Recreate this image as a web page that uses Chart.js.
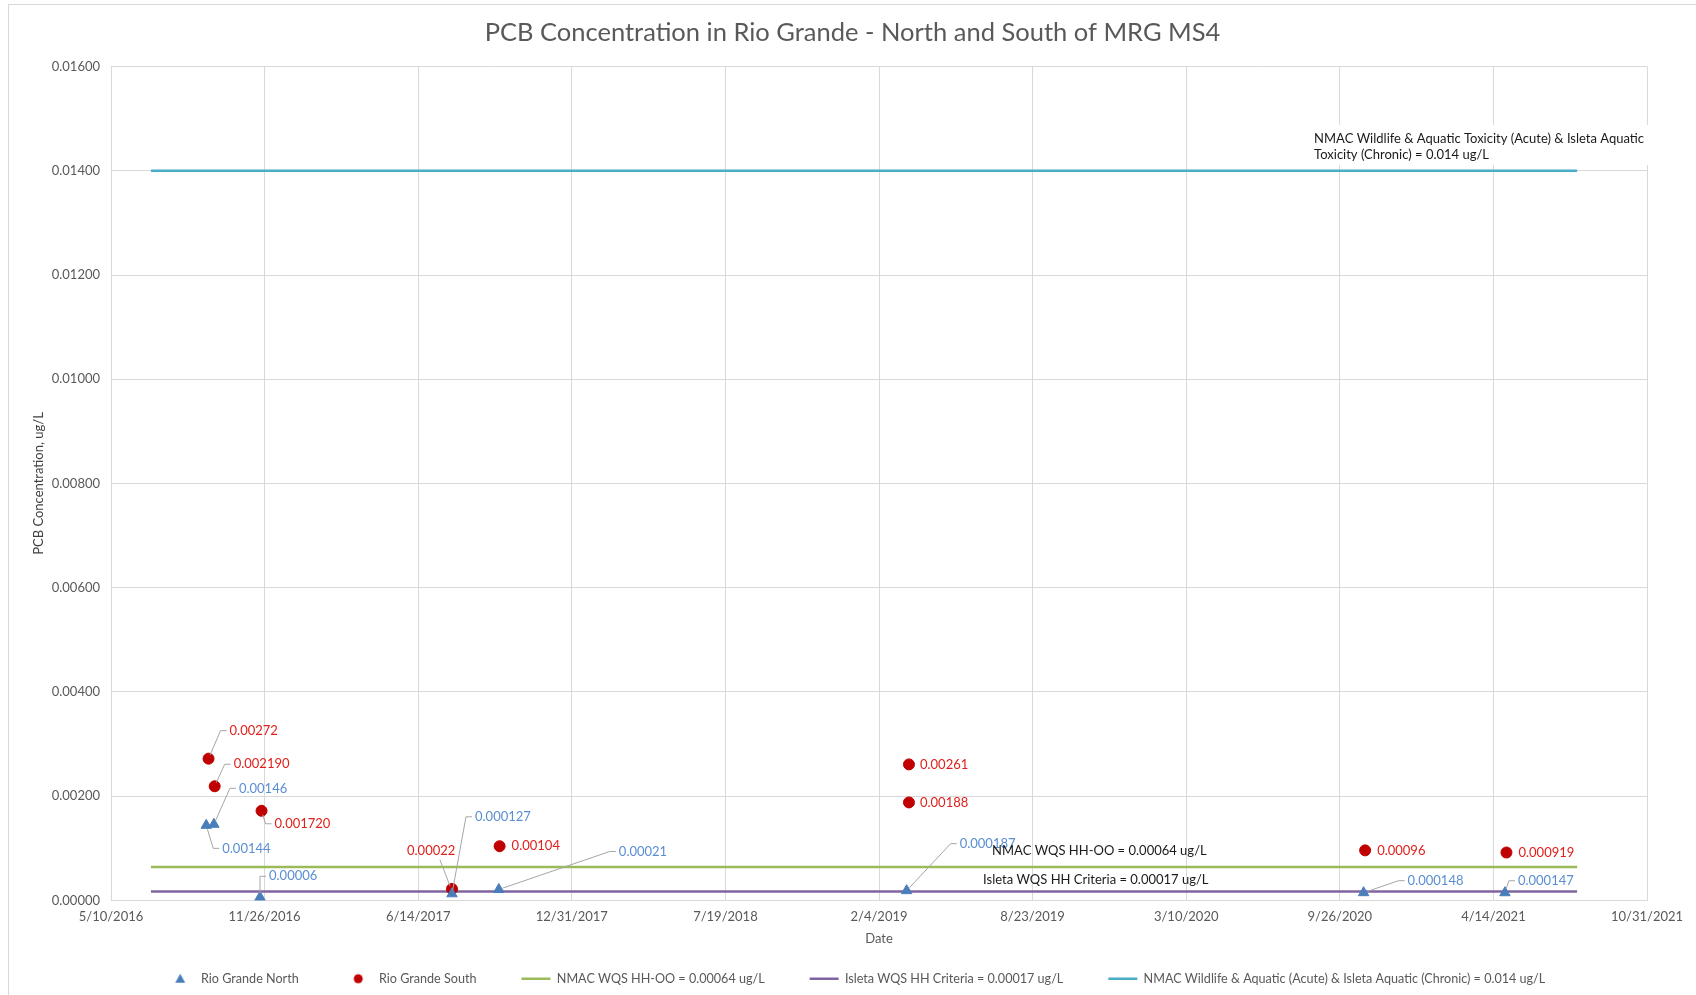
<!DOCTYPE html>
<html>
<head>
<meta charset="utf-8">
<script src="https://cdn.jsdelivr.net/npm/chart.js@4.4.0/dist/chart.umd.min.js"></script>
<style>
  html, body { margin: 0; padding: 0; background: #fff; overflow: hidden; }
  #wrap { position: relative; width: 1696px; height: 995px; }
</style>
</head>
<body>
<div id="wrap"><canvas id="pcbChart"></canvas></div>
<script>
// sample dates (M/D/YYYY) and results, ug/L
const northDates = ['9/11/2016', '9/21/2016', '11/20/2016', '7/28/2017', '9/27/2017', '3/12/2019', '10/27/2020', '4/29/2021'];
const northValues = [0.00144, 0.00146, 0.00006, 0.000127, 0.00021, 0.000187, 0.000148, 0.000147];
const northLabels = ['0.00144', '0.00146', '0.00006', '0.000127', '0.00021', '0.000187', '0.000148', '0.000147'];

const southDates = ['9/14/2016', '9/22/2016', '11/22/2016', '7/28/2017', '9/28/2017', '3/15/2019', '3/15/2019', '10/29/2020', '5/1/2021'];
const southValues = [0.00272, 0.00219, 0.00172, 0.00022, 0.00104, 0.00261, 0.00188, 0.00096, 0.000919];
const southLabels = ['0.00272', '0.002190', '0.001720', '0.00022', '0.00104', '0.00261', '0.00188', '0.00096', '0.000919'];

// criteria lines
const criteriaNames = [
    'NMAC WQS HH-OO = 0.00064 ug/L',
    'Isleta WQS HH Criteria = 0.00017 ug/L',
    'NMAC Wildlife & Aquatic (Acute) & Isleta Aquatic (Chronic) = 0.014 ug/L'
];
const criteriaValues = [0.00064, 0.00017, 0.014];
const criteriaSpan = ['7/1/2016', '8/1/2021'];
const criteriaNotes = [
    ['NMAC WQS HH-OO = 0.00064 ug/L'],
    ['Isleta WQS HH Criteria = 0.00017 ug/L'],
    ['NMAC Wildlife & Aquatic Toxicity (Acute) & Isleta Aquatic', 'Toxicity (Chronic) = 0.014 ug/L']
];

const axisStart = '5/10/2016';
const axisEnd = '10/31/2021';
const dayStep = 200;
const yTicks = [0, 0.016, 0.002];

// label placement (px offsets from the point), style only
const northOffsets = [[16, 23], [25, -36], [9, -21], [23, -77], [120, -38], [53, -47], [44, -12], [13, -12]];
const southOffsets = [[21, -28], [19, -22], [13, 13], [-45, -38], [12, 0], [11, 0], [11, 0], [12, 0], [12, 0]];
const noteOffsets = [[-585, -16], [-594, -12], [-263, -32]];

const toDay = s => {
    const [m, d, y] = s.split('/').map(Number);
    return Date.UTC(y, m - 1, d) / 86400000;
};
const fmtDay = v => {
    const d = new Date(Math.round(v) * 86400000);
    return (d.getUTCMonth() + 1) + '/' + d.getUTCDate() + '/' + d.getUTCFullYear();
};

const FONT = 'Lato, "Open Sans", sans-serif';
const lineColors = ['#9bbb59', '#8064a2', '#4bacc6'];

const pts = (dates, vals) => dates.map((d, i) => ({x: toDay(d), y: vals[i]}));

// small legend markers (so the line samples can be wider than the points)
function marker(kind, color) {
    const cv = document.createElement('canvas');
    cv.width = 12; cv.height = 12;
    const c = cv.getContext('2d');
    c.fillStyle = color;
    c.beginPath();
    if (kind === 'triangle') {
        c.moveTo(6, 1); c.lineTo(11, 10); c.lineTo(1, 10);
    } else {
        c.arc(6, 6, 4.5, 0, Math.PI * 2);
    }
    c.closePath();
    c.fill();
    return cv;
}

const datasets = [
    {
        label: 'Rio Grande North', data: pts(northDates, northValues),
        pointStyle: 'triangle', pointRadius: 6, pointHoverRadius: 6,
        backgroundColor: '#4a7ebb', borderColor: '#4a7ebb', borderWidth: 1,
        _labels: northLabels, _offsets: northOffsets, _labelColor: '#5a8ed2',
        _legendMark: marker('triangle', '#4a7ebb')
    },
    {
        label: 'Rio Grande South', data: pts(southDates, southValues),
        pointStyle: 'circle', pointRadius: 5.5, pointHoverRadius: 5.5,
        backgroundColor: '#c00000', borderColor: '#c00000', borderWidth: 1,
        _labels: southLabels, _offsets: southOffsets, _labelColor: '#e0201b',
        _legendMark: marker('circle', '#c00000')
    }
];
criteriaValues.forEach((v, i) => {
    datasets.push({
        label: criteriaNames[i],
        data: criteriaSpan.map(d => ({x: toDay(d), y: v})),
        showLine: true, pointRadius: 0, pointHoverRadius: 0, pointStyle: 'line',
        borderColor: lineColors[i], backgroundColor: lineColors[i], borderWidth: 2.5,
        _note: criteriaNotes[i], _noteOffset: noteOffsets[i]
    });
});

/* frame + legend squeeze + small shifts of title/legend */
const LEGEND_CUT = 23;
const TITLE_SHIFT = 19;
const LEGEND_SHIFT = 22;
const frame = {
    id: 'frame',
    beforeInit(chart) {
        const lg = chart.legend;
        const fit = lg.fit;
        lg.fit = function () { fit.call(this); this.height -= LEGEND_CUT; };
    },
    afterLayout(chart) {
        chart.legend.top -= LEGEND_CUT;
        chart.legend.left += LEGEND_SHIFT;
        chart.legend.right += LEGEND_SHIFT;
        chart.titleBlock.left += TITLE_SHIFT;
        chart.titleBlock.right += TITLE_SHIFT;
    },
    beforeDraw(chart) {
        const c = chart.ctx;
        c.save();
        c.fillStyle = '#fff';
        c.fillRect(0, 0, chart.width, chart.height);
        c.strokeStyle = '#d9d9d9';
        c.lineWidth = 1;
        c.strokeRect(8.5, 4.5, 2000, 2000);
        c.restore();
    }
};

/* data labels with leader lines */
const labels = {
    id: 'labels',
    afterDatasetsDraw(chart) {
        const c = chart.ctx;
        c.save();
        c.textBaseline = 'middle';
        chart.data.datasets.forEach((ds, di) => {
            const meta = chart.getDatasetMeta(di);
            c.font = '13px ' + FONT;
            if (ds._labels) {
                meta.data.forEach((el, i) => {
                    const [dx, dy] = ds._offsets[i];
                    const lx = el.x + dx, ly = el.y + dy;
                    const txt = ds._labels[i];
                    const w = c.measureText(txt).width;
                    if (Math.abs(dy) > 5) {
                        c.strokeStyle = '#a6a6a6';
                        c.lineWidth = 1;
                        c.beginPath();
                        if (lx > el.x) {
                            const ang = Math.atan2(ly - el.y, lx - 9 - el.x);
                            c.moveTo(el.x + Math.cos(ang) * 4, el.y + Math.sin(ang) * 4);
                            c.lineTo(lx - 9, ly);
                            c.lineTo(lx - 3, ly);
                        } else {
                            const ex = Math.min(el.x - 12, lx + w - 10), ey = ly + 9;
                            c.moveTo(el.x - 2, el.y - 3);
                            c.lineTo(ex, ey);
                        }
                        c.stroke();
                    }
                    c.fillStyle = ds._labelColor;
                    c.fillText(txt, lx, ly);
                });
            }
            if (ds._note) {
                const end = meta.data[meta.data.length - 1];
                const [dx, dy] = ds._noteOffset;
                c.font = '13px ' + FONT;
                const lines = ds._note;
                const lh = 16;
                if (lines.length > 1) {
                    const w = Math.max(...lines.map(t => c.measureText(t).width));
                    c.fillStyle = '#fff';
                    c.fillRect(end.x + dx - 10, end.y + dy - 14, w + 20, lh * lines.length + 8);
                }
                c.fillStyle = '#1a1a1a';
                lines.forEach((t, k) => c.fillText(t, end.x + dx, end.y + dy + k * lh));
            }
        });
        c.restore();
    }
};

new Chart(document.getElementById('pcbChart'), {
    type: 'scatter',
    data: {datasets},
    options: {
        responsive: true,
        maintainAspectRatio: false,
        animation: false,
        layout: {padding: {left: 20, right: 49, top: 8, bottom: 0}},
        plugins: {
            title: {
                display: true,
                text: 'PCB Concentration in Rio Grande - North and South of MRG MS4',
                color: '#595959',
                font: {family: FONT, size: 25.5, weight: 'normal'},
                padding: {top: 9, bottom: 19}
            },
            legend: {
                position: 'bottom',
                labels: {
                    usePointStyle: true,
                    pointStyleWidth: 29,
                    boxHeight: 8,
                    padding: 45,
                    color: '#595959',
                    font: {family: FONT, size: 12.6},
                    generateLabels(chart) {
                        const items = Chart.defaults.plugins.legend.labels.generateLabels(chart);
                        items.forEach(it => {
                            const ds = chart.data.datasets[it.datasetIndex];
                            if (ds._legendMark) it.pointStyle = ds._legendMark;
                        });
                        return items;
                    }
                }
            },
            tooltip: {enabled: false}
        },
        scales: {
            x: {
                type: 'linear',
                min: toDay(axisStart),
                max: toDay(axisEnd),
                afterBuildTicks: s => {
                    const t = [];
                    for (let v = toDay(axisStart); v <= toDay(axisEnd); v += dayStep) t.push({value: v});
                    s.ticks = t;
                },
                afterFit: s => { s.height = 50; },
                grid: {color: '#d9d9d9', drawTicks: false},
                border: {color: '#d9d9d9'},
                ticks: {
                    callback: fmtDay, autoSkip: false, maxRotation: 0,
                    padding: 9, color: '#595959', font: {family: FONT, size: 13}
                },
                title: {
                    display: true, text: 'Date', color: '#595959',
                    font: {family: FONT, size: 13}, padding: {top: 4, bottom: 4}
                }
            },
            y: {
                min: yTicks[0], max: yTicks[1],
                afterFit: s => { s.width = 91; },
                grid: {color: '#d9d9d9', drawTicks: false},
                border: {color: '#d9d9d9'},
                ticks: {
                    stepSize: yTicks[2],
                    callback: v => v.toFixed(5),
                    padding: 11, color: '#595959', font: {family: FONT, size: 13}
                },
                title: {
                    display: true, text: 'PCB Concentration, ug/L', color: '#404040',
                    font: {family: FONT, size: 13}, padding: {top: 11, bottom: 0}
                }
            }
        }
    },
    plugins: [frame, labels]
});
</script>
</body>
</html>
